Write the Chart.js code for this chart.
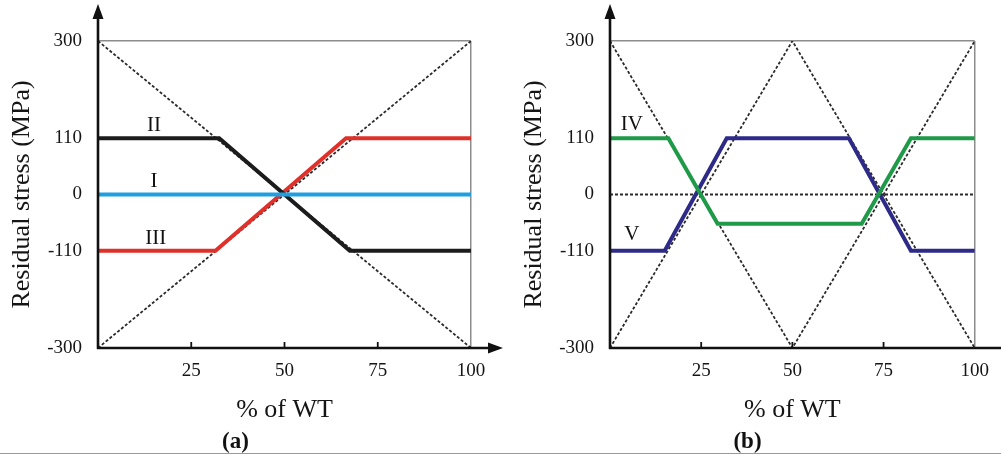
<!DOCTYPE html>
<html>
<head>
<meta charset="utf-8">
<title>Residual stress through wall thickness</title>
<script src="https://cdn.jsdelivr.net/npm/chart.js@4/dist/chart.umd.min.js"></script>
<style>
  html, body { margin: 0; padding: 0; background: #fff; }
  #wrap { position: relative; width: 1001px; height: 456px; overflow: hidden; }
  canvas { position: absolute; top: 0; }
  #chartA { left: 0; }
  #chartB { left: 512px; }
  .rule { position: absolute; left: 0; top: 453px; width: 1001px; height: 0; border-top: 1.5px solid #9a9a9a; }
</style>
</head>
<body>
<div id="wrap">
  <canvas id="chartA" width="512" height="456"></canvas>
  <canvas id="chartB" width="489" height="456"></canvas>
  <div class="rule"></div>
</div>
<script>
// axis ticks shared by both panels
const yTicks = [-300, -110, 0, 110, 300];
const xTicks = [25, 50, 75, 100];

// panel (a): stress profiles I, II, III
const aNames = ["I", "II", "III"];
const aX = [[0, 100], [0, 32.5, 67.5, 100], [0, 31.5, 66.5, 100]];
const aY = [[0, 0], [110, 110, -110, -110], [-110, -110, 110, 110]];
const aColors = ["#1e9fdf", "#1c1c1c", "#e0302a"];
// dotted envelope lines of (a)
const aGuideX = [[0, 100], [0, 100]];
const aGuideY = [[300, -300], [-300, 300]];

// panel (b): stress profiles IV, V
const bNames = ["IV", "V"];
const bX = [[0, 16, 29.5, 69, 82.5, 100], [0, 15, 32, 65.5, 82.5, 100]];
const bY = [[110, 110, -57, -57, 110, 110], [-110, -110, 110, 110, -110, -110]];
const bColors = ["#1f9a48", "#2d2a88"];
// dotted envelope lines of (b) plus the zero line
const bGuideX = [[0, 50, 100], [0, 50, 100], [0, 100]];
const bGuideY = [[300, -300, 300], [-300, 300, -300], [0, 0]];

Chart.defaults.font.family = '"Liberation Serif", "Times New Roman", serif';
Chart.defaults.color = "#151515";

const pts = (xs, ys) => xs.map((x, i) => ({ x: x, y: ys[i] }));

function seriesSets(xs, ys, colors, names){
  return xs.map((x, i) => ({
    label: names[i],
    data: pts(x, ys[i]),
    borderColor: colors[i],
    borderWidth: 4,
    pointRadius: 0,
    tension: 0
  }));
}

function guideSets(xs, ys){
  return xs.map((x, i) => ({
    label: "guide" + i,
    data: pts(x, ys[i]),
    borderColor: "#2a2a2a",
    borderWidth: 1.8,
    borderDash: [3, 2],
    pointRadius: 0,
    tension: 0
  }));
}

// axes with arrows, inner tick marks and the roman-numeral tags
const decor = {
  id: "decor",
  afterDraw(chart, args, opts){
    const { ctx, chartArea: a, scales } = chart;
    const xs = scales.x, ys = scales.y;
    ctx.save();
    ctx.strokeStyle = "#111";
    ctx.fillStyle = "#111";
    ctx.lineWidth = 2.6;

    // y axis + arrow
    ctx.beginPath();
    ctx.moveTo(a.left, a.bottom + 1);
    ctx.lineTo(a.left, 16);
    ctx.stroke();
    ctx.beginPath();
    ctx.moveTo(a.left, 4);
    ctx.lineTo(a.left - 5.5, 19);
    ctx.lineTo(a.left + 5.5, 19);
    ctx.closePath();
    ctx.fill();

    // x axis + arrow
    const tip = opts.arrowTip;
    ctx.beginPath();
    ctx.moveTo(a.left - 1, a.bottom);
    ctx.lineTo(tip - 12, a.bottom);
    ctx.stroke();
    ctx.beginPath();
    ctx.moveTo(tip, a.bottom);
    ctx.lineTo(tip - 15, a.bottom - 5.5);
    ctx.lineTo(tip - 15, a.bottom + 5.5);
    ctx.closePath();
    ctx.fill();

    // small tick marks pointing into the plot
    ctx.lineWidth = 1.8;
    xTicks.filter(v => v < 100).forEach(v => {
      const px = xs.getPixelForValue(v);
      ctx.beginPath();
      ctx.moveTo(px, a.bottom);
      ctx.lineTo(px, a.bottom - 6);
      ctx.stroke();
    });

    // tags over each profile
    ctx.font = '21px "Liberation Serif", serif';
    ctx.textAlign = "center";
    ctx.textBaseline = "middle";
    opts.tags.forEach(t => {
      const ds = chart.data.datasets[t.index];
      const px = xs.getPixelForValue(t.at);
      const py = ys.getPixelForValue(ds.data[0].y) - t.dy;
      ctx.fillText(ds.label, px, py);
    });
    ctx.restore();
  }
};

function makePanel(canvasId, datasets, caption, rightPad, arrowTip, tags){
  return new Chart(document.getElementById(canvasId), {
    type: "line",
    data: { datasets: datasets },
    plugins: [decor],
    options: {
      responsive: false,
      animation: false,
      devicePixelRatio: 1,
      layout: { padding: { left: 0, right: rightPad, top: 41, bottom: 0 } },
      plugins: {
        legend: { display: false },
        tooltip: { enabled: false },
        title: {
          display: true,
          position: "bottom",
          text: caption,
          color: "#111",
          font: { size: 23, weight: "bold" },
          padding: { top: 3, bottom: 0 }
        },
        decor: { arrowTip: arrowTip, tags: tags }
      },
      scales: {
        x: {
          type: "linear",
          min: 0,
          max: 100,
          afterBuildTicks: s => { s.ticks = xTicks.map(v => ({ value: v })); },
          afterFit: s => { s.height = 77.4; },
          border: { display: false },
          grid: {
            drawTicks: false,
            lineWidth: 1.5,
            color: c => (c.tick && c.tick.value === 100) ? "#8c8c8c" : "rgba(0,0,0,0)"
          },
          ticks: { padding: 12, font: { size: 19 }, color: "#151515" },
          title: { display: true, text: "% of WT", font: { size: 26 }, padding: { top: 0, bottom: 0 }, color: "#151515" }
        },
        y: {
          type: "linear",
          min: -300,
          max: 300,
          afterBuildTicks: s => { s.ticks = yTicks.map(v => ({ value: v })); },
          afterFit: s => { s.width = 98; },
          border: { display: false },
          grid: {
            drawTicks: false,
            lineWidth: 1.5,
            color: c => (c.tick && c.tick.value === 300) ? "#8c8c8c" : "rgba(0,0,0,0)"
          },
          ticks: { padding: 16, font: { size: 19 }, color: "#151515" },
          title: { display: true, text: "Residual stress (MPa)", font: { size: 26 }, padding: { top: 7, bottom: 0 }, color: "#151515" }
        }
      }
    }
  });
}

const setsA = seriesSets(aX, aY, aColors, aNames).concat(guideSets(aGuideX, aGuideY));
const setsB = seriesSets(bX, bY, bColors, bNames).concat(guideSets(bGuideX, bGuideY));

makePanel("chartA", setsA, "(a)", 41, 503, [
  { index: 0, at: 15, dy: 13 },
  { index: 1, at: 15, dy: 13 },
  { index: 2, at: 15.5, dy: 12 }
]);

makePanel("chartB", setsB, "(b)", 18, 505, [
  { index: 0, at: 6, dy: 14 },
  { index: 1, at: 6, dy: 16 }
]);
</script>
</body>
</html>
